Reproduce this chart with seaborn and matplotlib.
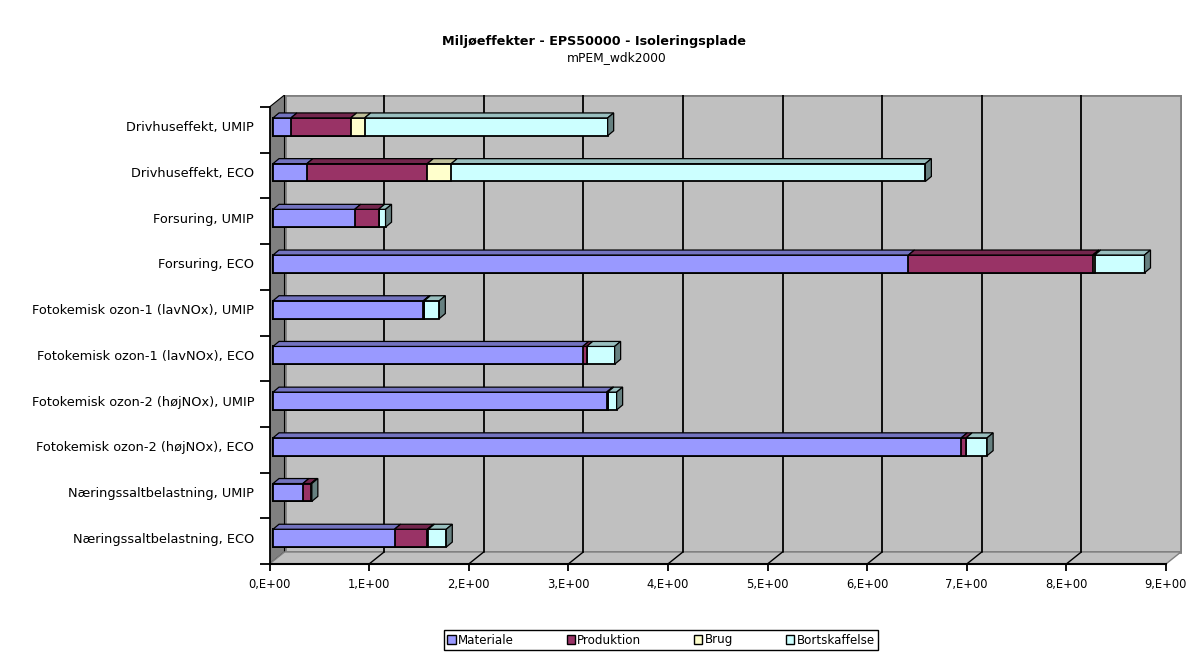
import numpy as np
import matplotlib
matplotlib.use("Agg")
import matplotlib.pyplot as plt
import matplotlib.patches as mpatches
import matplotlib.transforms as mtransforms
from matplotlib.colors import to_rgb
import seaborn as sns

# ── Data ─────────────────────────────────────────────────────────────────────
categories = [
    "Drivhuseffekt, UMIP",
    "Drivhuseffekt, ECO",
    "Forsuring, UMIP",
    "Forsuring, ECO",
    "Fotokemisk ozon-1 (lavNOx), UMIP",
    "Fotokemisk ozon-1 (lavNOx), ECO",
    "Fotokemisk ozon-2 (højNOx), UMIP",
    "Fotokemisk ozon-2 (højNOx), ECO",
    "Næringssaltbelastning, UMIP",
    "Næringssaltbelastning, ECO",
]
series = ["Materiale", "Produktion", "Brug", "Bortskaffelse"]
materiale     = [0.18, 0.34, 0.82, 6.38, 1.51, 3.11, 3.35, 6.91, 0.30, 1.22]
produktion    = [0.60, 1.21, 0.24, 1.85, 0.01, 0.04, 0.01, 0.05, 0.08, 0.33]
brug          = [0.14, 0.24, 0.00, 0.02, 0.00, 0.00, 0.00, 0.00, 0.00, 0.01]
bortskaffelse = [2.44, 4.76, 0.07, 0.50, 0.15, 0.28, 0.09, 0.21, 0.01, 0.18]
x_ticks = list(range(10))
x_tick_labels = [f"{v},E+00" for v in x_ticks]

title = "Miljøeffekter - EPS50000 - Isoleringsplade"
subtitle = "mPEM_wdk2000"

# ── Style ─────────────────────────────────────────────────────────────────────
COLORS = {
    "Materiale":     "#9999FF",
    "Produktion":    "#993366",
    "Brug":          "#FFFFCC",
    "Bortskaffelse": "#CCFFFF",
}
WALL = "#C0C0C0"
SIDE_WALL = "#808080"
BAR_W = 0.39

sns.set_style("white")
plt.rcParams["font.family"] = ["DejaVu Sans"]
plt.rcParams["text.color"] = "black"

W, H, DPI = 1188, 654, 100
# pixel geometry of the front plane / depth
UX = 99.6     # px per x unit
UY = 45.7     # px per category
DX, DY = 15 / UX, 12 / UY          # wall depth
BDX, BDY = 6 / UX, 5 / UY          # bar depth


def shade(c, f):
    r, g, b = to_rgb(c)
    return (r * f, g * f, b * f)


fig = plt.figure(figsize=(W / DPI, H / DPI), dpi=DPI)
left, right, top, bottom = 269.5, 1182, 95, 564
ax = fig.add_axes([left / W, 1 - bottom / H, (right - left) / W, (bottom - top) / H])

n = len(categories)
seg = np.array([materiale, produktion, brug, bortskaffelse])
cum = seg.cumsum(axis=0)

# stacked bars: draw cumulative totals from the outermost inwards
for k in reversed(range(len(series))):
    sns.barplot(x=cum[k], y=categories, orient="h", color=COLORS[series[k]],
                saturation=1, width=BAR_W, errorbar=None, edgecolor="black",
                linewidth=1.3, ax=ax, zorder=3)

# bars sit slightly behind the front plane
shift = ax.transData + mtransforms.ScaledTranslation(3.5 / DPI, 3 / DPI, fig.dpi_scale_trans)
for p in ax.patches:
    p.set_transform(shift)

# 3D top faces and end caps
for i in range(n):
    ytop, ybot = i - BAR_W / 2, i + BAR_W / 2
    for k in range(len(series)):
        x1 = cum[k, i]
        x0 = x1 - seg[k, i]
        if seg[k, i] <= 0:
            continue
        ax.add_patch(mpatches.Polygon(
            [(x0, ytop), (x1, ytop), (x1 + BDX, ytop - BDY), (x0 + BDX, ytop - BDY)],
            closed=True, facecolor=shade(COLORS[series[k]], 0.75),
            edgecolor="black", linewidth=0.9, transform=shift, zorder=3))
    last = max(k for k in range(len(series)) if seg[k, i] > 0)
    x1 = cum[-1, i]
    ax.add_patch(mpatches.Polygon(
        [(x1, ytop), (x1 + BDX, ytop - BDY), (x1 + BDX, ybot - BDY), (x1, ybot)],
        closed=True, facecolor=shade(COLORS[series[last]], 0.5),
        edgecolor="black", linewidth=0.9, transform=shift, zorder=3))

# walls and floor
ax.add_patch(mpatches.Rectangle((DX, -0.5 - DY), 9, n, facecolor=WALL,
                                edgecolor=SIDE_WALL, linewidth=2, zorder=0.5))
ax.add_patch(mpatches.Polygon([(0, -0.5), (DX, -0.5 - DY), (DX, n - 0.5 - DY), (0, n - 0.5)],
                              closed=True, facecolor=SIDE_WALL, edgecolor="black",
                              linewidth=0.8, zorder=0.6))
ax.add_patch(mpatches.Polygon([(0, n - 0.5), (9, n - 0.5), (9 + DX, n - 0.5 - DY), (DX, n - 0.5 - DY)],
                              closed=True, facecolor=WALL, edgecolor=SIDE_WALL,
                              linewidth=1, zorder=0.6))
for v in x_ticks[1:-1]:
    ax.plot([v + DX, v + DX], [-0.5 - DY, n - 0.5 - DY], color="black", linewidth=1.3, zorder=1)
    ax.plot([v, v + DX], [n - 0.5, n - 0.5 - DY], color="black", linewidth=1.0, zorder=1)

ax.set_xlim(0, (right - left) / UX)
ax.set_ylim(n - 0.5, n - 0.5 - (bottom - top) / UY)

ax.set_xticks(x_ticks, x_tick_labels)
ax.set_yticks(range(n), categories)
ax.set_yticks(np.arange(-0.5, n), minor=True)
ax.tick_params(axis="x", bottom=True, length=5, width=1.3, pad=5,
               labelsize=8.3, color="black", labelcolor="black")
ax.tick_params(axis="y", which="major", left=True, length=0, pad=11,
               labelsize=9.3, labelcolor="black")
ax.tick_params(axis="y", which="minor", left=True, length=7.5, width=1.3, color="black")
# labels line up with the bar faces, which sit a little above the category centre
label_shift = mtransforms.ScaledTranslation(0, 3.5 / DPI, fig.dpi_scale_trans)
for lbl in ax.get_yticklabels():
    lbl.set_transform(lbl.get_transform() + label_shift)
ax.set_xlabel("")
ax.set_ylabel("")
for s in ["top", "right"]:
    ax.spines[s].set_visible(False)
ax.spines["left"].set_bounds(-0.5, n - 0.5)
ax.spines["left"].set_linewidth(1.3)
ax.spines["left"].set_color("black")
ax.spines["bottom"].set_bounds(0, 9)
ax.spines["bottom"].set_linewidth(1.5)
ax.spines["bottom"].set_color("black")
ax.set_facecolor("none")

fig.text(594 / W, 1 - 42 / H, title, ha="center", va="center",
         fontsize=9.2, fontweight="bold")
fig.text(617 / W, 1 - 58 / H, subtitle, ha="center", va="center", fontsize=8.8)

handles = [mpatches.Patch(facecolor=COLORS[s], edgecolor="black", linewidth=1) for s in series]
fig.legend(handles, series, loc="center", bbox_to_anchor=(661 / W, 1 - 640 / H),
           ncol=4, fontsize=8.6, frameon=True, fancybox=False, edgecolor="black",
           handlelength=0.7, handleheight=0.7, handletextpad=0.2,
           columnspacing=4.4, borderpad=0.3, framealpha=1)

fig.savefig("out.png", dpi=DPI)
